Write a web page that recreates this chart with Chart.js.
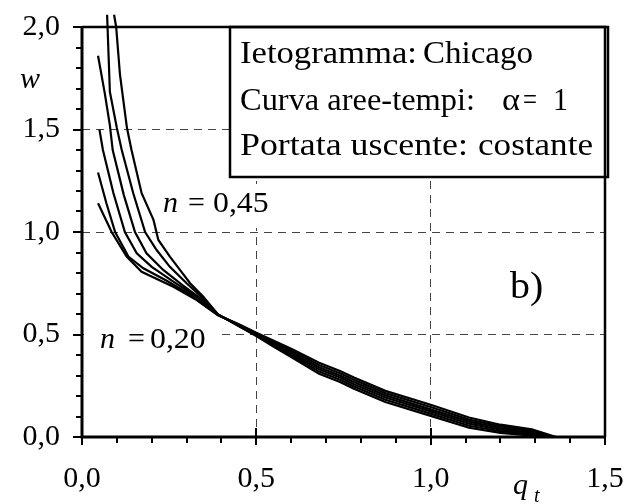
<!DOCTYPE html>
<html>
<head>
<meta charset="utf-8">
<script src="https://cdn.jsdelivr.net/npm/chart.js@4.4.1/dist/chart.umd.min.js"></script>
<style>
  html, body { margin: 0; padding: 0; background: #fff; }
  canvas { display: block; }
</style>
</head>
<body>
<canvas id="chart" width="639" height="504"></canvas>
<script>
// Dimensionless storage w against outflow q_t, one curve per exponent n
const nLabels = ['0,20', '0,25', '0,30', '0,35', '0,40', '0,45'];

const q_n020 = [0.046, 0.085, 0.128, 0.171, 0.262, 0.329, 0.39, 0.45, 0.50, 0.55, 0.60, 0.68, 0.74, 0.78, 0.87, 1.00, 1.11, 1.20, 1.29, 1.36];
const w_n020 = [1.14, 1.00, 0.88, 0.806, 0.733, 0.668, 0.594, 0.55, 0.508, 0.47, 0.43, 0.362, 0.322, 0.29, 0.225, 0.157, 0.095, 0.06, 0.037, 0.0];

const q_n025 = [0.046, 0.07, 0.095, 0.133, 0.176, 0.243, 0.31, 0.39, 0.45, 0.50, 0.55, 0.60, 0.68, 0.74, 0.78, 0.87, 1.00, 1.11, 1.20, 1.29, 1.35];
const w_n025 = [1.29, 1.14, 1.00, 0.88, 0.823, 0.762, 0.695, 0.595, 0.548, 0.505, 0.464, 0.422, 0.351, 0.311, 0.279, 0.214, 0.146, 0.085, 0.052, 0.031, 0.0];

const q_n030 = [0.05, 0.06, 0.09, 0.123, 0.157, 0.20, 0.262, 0.329, 0.39, 0.45, 0.50, 0.55, 0.60, 0.68, 0.74, 0.78, 0.87, 1.00, 1.11, 1.20, 1.29, 1.34];
const w_n030 = [1.50, 1.40, 1.19, 1.00, 0.896, 0.83, 0.758, 0.684, 0.596, 0.546, 0.502, 0.458, 0.414, 0.34, 0.30, 0.268, 0.203, 0.135, 0.075, 0.044, 0.025, 0.0];

const q_n035 = [0.046, 0.065, 0.08, 0.088, 0.12, 0.152, 0.185, 0.233, 0.29, 0.348, 0.39, 0.45, 0.50, 0.55, 0.60, 0.68, 0.74, 0.78, 0.87, 1.00, 1.11, 1.20, 1.29, 1.33];
const w_n035 = [1.86, 1.68, 1.52, 1.40, 1.18, 1.00, 0.896, 0.815, 0.738, 0.665, 0.597, 0.544, 0.498, 0.452, 0.406, 0.33, 0.29, 0.257, 0.193, 0.125, 0.065, 0.036, 0.019, 0.0];

const q_n040 = [0.072, 0.080, 0.100, 0.114, 0.147, 0.181, 0.214, 0.252, 0.30, 0.348, 0.39, 0.45, 0.50, 0.55, 0.60, 0.68, 0.74, 0.78, 0.87, 1.00, 1.11, 1.20, 1.29, 1.32];
const w_n040 = [2.06, 1.683, 1.507, 1.40, 1.189, 1.00, 0.912, 0.83, 0.75, 0.675, 0.598, 0.542, 0.495, 0.446, 0.398, 0.319, 0.279, 0.246, 0.182, 0.114, 0.055, 0.028, 0.013, 0.0];

const q_n045 = [0.092, 0.098, 0.109, 0.129, 0.142, 0.171, 0.205, 0.219, 0.252, 0.281, 0.31, 0.348, 0.39, 0.45, 0.50, 0.55, 0.60, 0.68, 0.74, 0.78, 0.87, 1.00, 1.11, 1.20, 1.29, 1.31];
const w_n045 = [2.06, 2.00, 1.766, 1.507, 1.40, 1.189, 1.059, 0.961, 0.88, 0.815, 0.75, 0.684, 0.598, 0.54, 0.492, 0.44, 0.39, 0.308, 0.268, 0.235, 0.171, 0.103, 0.045, 0.02, 0.007, 0.0];

const xTickLabels = ['0,0', '0,5', '1,0', '1,5'];
const yTickLabels = ['0,0', '0,5', '1,0', '1,5', '2,0'];

// info box text pieces: text, left edge, right edge, baseline
const infoPieces = [
  ['Ietogramma:', 240, 417, 63], ['Chicago', 423, 533, 63],
  ['Curva aree-tempi:', 240, 475, 110], ['\u03B1', 502, 520, 110], ['=', 523, 537, 110], ['1', 553, 568, 110],
  ['Portata uscente:', 240, 468, 155], ['costante', 478, 593, 155]
];
const panelTag = 'b)';

const series = [
  [q_n020, w_n020], [q_n025, w_n025], [q_n030, w_n030],
  [q_n035, w_n035], [q_n040, w_n040], [q_n045, w_n045]
];

const SERIF = '"Liberation Serif", "Times New Roman", serif';

const datasets = series.map(([q, w], i) => ({
  label: 'n = ' + nLabels[i],
  data: q.map((x, k) => ({ x: x, y: w[k] })),
  showLine: true,
  borderColor: '#000',
  borderWidth: 2.2,
  pointRadius: 0,
  tension: 0,
  clip: false
}));

// text with a horizontal stretch
function wideText(ctx, str, x, y, sx) {
  ctx.save();
  ctx.translate(x, y);
  ctx.scale(sx, 1);
  ctx.fillText(str, 0, 0);
  ctx.restore();
}

// text stretched to span from x0 to x1
function spanText(ctx, str, x0, x1, y) {
  const w = ctx.measureText(str).width;
  wideText(ctx, str, x0, y, (x1 - x0) / w);
}

// Axes frame, tick marks, info box and in-plot annotations
const framePlugin = {
  id: 'frame',
  afterDatasetsDraw(chart) {
    const ctx = chart.ctx;
    const xs = chart.scales.x, ys = chart.scales.y;
    const a = chart.chartArea;
    ctx.save();

    // white backgrounds behind the n labels
    ctx.fillStyle = '#fff';
    ctx.fillRect(a.left + 2, ys.getPixelForValue(0.5) - 16, 134, 30);
    ctx.fillRect(160, 184, 112, 44);

    // info box
    ctx.fillRect(230, a.top, 378, 150);
    ctx.strokeStyle = '#000';
    ctx.lineWidth = 2.5;
    ctx.strokeRect(230, a.top, 378, 150);

    // plot frame
    ctx.lineWidth = 3;
    ctx.beginPath();
    ctx.moveTo(a.left, a.top - 1);
    ctx.lineTo(a.left, a.bottom);
    ctx.lineTo(a.right, a.bottom);
    ctx.stroke();
    ctx.lineWidth = 2.5;
    ctx.beginPath();
    ctx.moveTo(a.left, a.top);
    ctx.lineTo(a.right, a.top);
    ctx.lineTo(a.right, a.bottom);
    ctx.stroke();

    // tick marks: major every 0.5, minor every 0.1
    ctx.lineWidth = 2;
    ctx.beginPath();
    for (let i = 0; i <= 15; i++) {
      const px = Math.round(xs.getPixelForValue(i / 10));
      if (i % 5 === 0) { ctx.moveTo(px, a.bottom - 9); ctx.lineTo(px, a.bottom + 8); }
      else { ctx.moveTo(px, a.bottom); ctx.lineTo(px, a.bottom + 6); }
    }
    for (let i = 0; i <= 20; i++) {
      const py = Math.round(ys.getPixelForValue(i / 10));
      if (i % 5 === 0) { ctx.moveTo(a.left - 9, py); ctx.lineTo(a.left, py); }
      else { ctx.moveTo(a.left - 6, py); ctx.lineTo(a.left, py); }
    }
    ctx.stroke();

    // texts
    ctx.fillStyle = '#000';
    ctx.textBaseline = 'alphabetic';
    ctx.textAlign = 'left';
    ctx.font = '32px ' + SERIF;
    infoPieces.forEach(([s, x0, x1, y]) => spanText(ctx, s, x0, x1, y));

    ctx.font = '38px ' + SERIF;
    wideText(ctx, panelTag, 510, 298, 1.05);

    // curve labels
    ctx.font = 'italic 30px ' + SERIF;
    ctx.fillText('n', 163, 212);
    ctx.fillText('n', 100, 348);
    ctx.font = '30px ' + SERIF;
    ctx.fillText('=', 188, 212);
    wideText(ctx, nLabels[5], 213, 212, 1.06);
    ctx.fillText('=', 128, 348);
    wideText(ctx, nLabels[0], 150, 348, 1.06);

    // axis titles
    ctx.font = 'italic 30px ' + SERIF;
    ctx.fillText('w', 20, 88);
    ctx.fillText('q', 513, 494);
    ctx.font = 'italic 20px ' + SERIF;
    ctx.fillText('t', 534, 502);

    ctx.restore();
  }
};

const gridColor = (c) => {
  const v = c.tick ? c.tick.value : null;
  return (v !== null && v > 0.01 && v < c.scale.max - 0.01) ? '#444' : 'rgba(0,0,0,0)';
};

const noPad = (s) => { s.paddingTop = 0; s.paddingBottom = 0; s.paddingLeft = 0; s.paddingRight = 0; };

new Chart(document.getElementById('chart').getContext('2d'), {
  type: 'scatter',
  data: { datasets: datasets },
  options: {
    responsive: false,
    animation: false,
    devicePixelRatio: 1,
    layout: { autoPadding: false, padding: { top: 27, right: 34, left: 0, bottom: 0 } },
    plugins: { legend: { display: false }, tooltip: { enabled: false } },
    scales: {
      x: {
        type: 'linear', min: 0, max: 1.5,
        afterFit: (s) => { s.height = 67; noPad(s); },
        ticks: {
          stepSize: 0.5, autoSkip: false, maxRotation: 0, padding: 24,
          color: '#000', font: { family: SERIF, size: 30 },
          callback: (v, i) => xTickLabels[i]
        },
        grid: { drawTicks: false, color: gridColor, lineWidth: 1 },
        border: { display: false, dash: [8, 6] }
      },
      y: {
        type: 'linear', min: 0, max: 2,
        afterFit: (s) => { s.width = 82; noPad(s); },
        ticks: {
          stepSize: 0.5, autoSkip: false, padding: 22,
          color: '#000', font: { family: SERIF, size: 30 },
          callback: (v, i) => yTickLabels[i]
        },
        grid: { drawTicks: false, color: gridColor, lineWidth: 1 },
        border: { display: false, dash: [8, 6] }
      }
    }
  },
  plugins: [framePlugin]
});
</script>
</body>
</html>
